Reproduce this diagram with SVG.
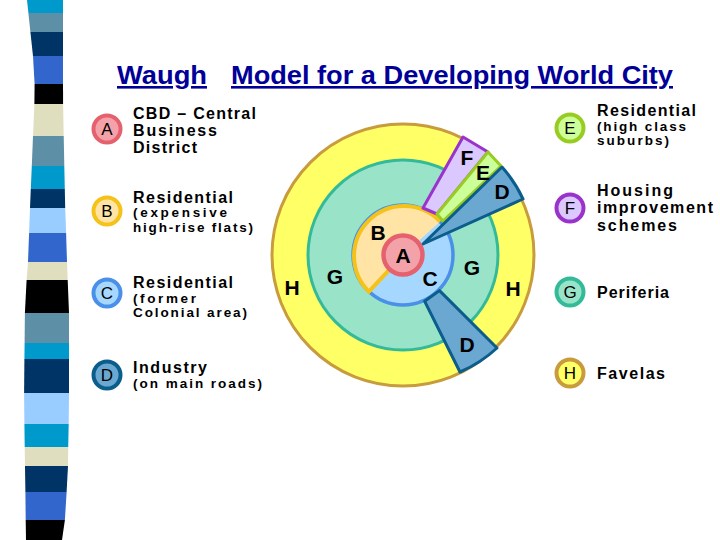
<svg xmlns="http://www.w3.org/2000/svg" width="720" height="540" viewBox="0 0 720 540">
<style>
.title{font-family:"Liberation Sans",Arial,sans-serif;font-weight:bold;font-size:26px;fill:#000099;text-decoration:underline;}
.lm{font-family:"Liberation Sans",Arial,sans-serif;font-weight:bold;font-size:16px;fill:#000;}
.ls{font-family:"Liberation Sans",Arial,sans-serif;font-weight:bold;font-size:13.5px;fill:#000;}
.ll{font-family:"Liberation Sans",Arial,sans-serif;font-size:17px;fill:#000;text-anchor:middle;}
.zl{font-family:"Liberation Sans",Arial,sans-serif;font-weight:bold;font-size:21px;fill:#000;text-anchor:middle;}
.cA{fill:#f4a2aa;stroke:#e6616e;}
.cB{fill:#ffe4a6;stroke:#f5c21a;}
.cC{fill:#a6d8ff;stroke:#4a90e8;}
.cD{fill:#6aa8d2;stroke:#0b5d8c;}
.cE{fill:#ccff99;stroke:#99cc22;}
.cF{fill:#dac8ff;stroke:#9933cc;}
.cG{fill:#99e4c9;stroke:#33bb99;}
.cH{fill:#ffff66;stroke:#c89b3c;}
.lc{stroke-width:4;}
</style>
<rect width="720" height="540" fill="#ffffff"/>
<g id="stripes">
<polygon points="27,0 63,0 63,13 28.4,13" fill="#0099cc"/>
<polygon points="28.4,13 63,13 63,32 30.4,32" fill="#5d8fa6"/>
<polygon points="30.4,32 63,32 63,56 33,56" fill="#003366"/>
<polygon points="33,56 63,56 63,84 34.6,84" fill="#3366cc"/>
<polygon points="34.6,84 63,84 63.1,104 34.4,104" fill="#000000"/>
<polygon points="34.4,104 63.1,104 63.7,136 33,136" fill="#dfdfc0"/>
<polygon points="33,136 63.7,136 64.3,166 31.8,166" fill="#5d8fa6"/>
<polygon points="31.8,166 64.3,166 64.8,189 30.8,189" fill="#0099cc"/>
<polygon points="30.8,189 64.8,189 65.2,208 30,208" fill="#003366"/>
<polygon points="30,208 65.2,208 66.1,233 29.1,233" fill="#99ccff"/>
<polygon points="29.1,233 66.1,233 67,262 28,262" fill="#3366cc"/>
<polygon points="28,262 67,262 67.7,280 26.6,280" fill="#dfdfc0"/>
<polygon points="26.6,280 67.7,280 69,313 24.9,313" fill="#000000"/>
<polygon points="24.9,313 69,313 69,343 24.6,343" fill="#5d8fa6"/>
<polygon points="24.6,343 69,343 69,359 24.4,359" fill="#0099cc"/>
<polygon points="24.4,359 69,359 69,393 24.1,393" fill="#003366"/>
<polygon points="24.1,393 69,393 68.7,424 24.4,424" fill="#99ccff"/>
<polygon points="24.4,424 68.7,424 68.2,447 24.7,447" fill="#0099cc"/>
<polygon points="24.7,447 68.2,447 68,466 25,466" fill="#dfdfc0"/>
<polygon points="25,466 68,466 66.6,492 25.4,492" fill="#003366"/>
<polygon points="25.4,492 66.6,492 64.9,520 25.7,520" fill="#3366cc"/>
<polygon points="25.7,520 64.9,520 62,540 26,540" fill="#000000"/>
</g>
<g id="title">
<text class="title" x="117" y="84" textLength="90" lengthAdjust="spacingAndGlyphs">Waugh</text>
<text class="title" x="231" y="84" textLength="442" lengthAdjust="spacingAndGlyphs">Model for a Developing World City</text>
</g>
<g id="model">
<g id="zone-H"><circle class="cH" cx="403" cy="255" r="131" stroke-width="3"/></g>
<g id="zone-G"><circle class="cG" cx="403" cy="255" r="95" stroke-width="3"/></g>
<g id="zone-C"><circle class="cC" cx="403" cy="255" r="50" stroke-width="3.5"/></g>
<g id="zone-B">
<path d="M403 255 L368.9 291.6 A50 50 0 1 1 440.2 221.5 Z" fill="#ffe4a6"/>
<path d="M388.7 270.4 L368.9 291.6 A50 50 0 1 1 440.2 221.5" fill="none" stroke="#f5c21a" stroke-width="4"/>
</g>
<g id="zone-F"><polygon class="cF" points="463,137 488,152 437,214 423,208" stroke-width="3" stroke-linejoin="round"/></g>
<g id="zone-E"><polygon class="cE" points="488,152 501,166 443,221 437,214" stroke-width="3" stroke-linejoin="round"/></g>
<g id="zone-D-upper"><path class="cD" d="M423 244 L502 167 A131 131 0 0 1 523 199 Z" stroke-width="3" stroke-linejoin="round"/></g>
<g id="zone-D-lower"><path class="cD" d="M424.6 301.2 L439.5 290.6 L497 348 A131 131 0 0 1 460 372 Z" stroke-width="3" stroke-linejoin="round"/></g>
<g id="zone-A"><circle class="cA" cx="403" cy="255" r="19.5" stroke-width="4.5"/></g>
<g id="zone-labels">
<text class="zl" x="467" y="165">F</text>
<text class="zl" x="483" y="180">E</text>
<text class="zl" x="502" y="199">D</text>
<text class="zl" x="378" y="240" font-size="22">B</text>
<text class="zl" x="403" y="263" font-size="22">A</text>
<text class="zl" x="430" y="286">C</text>
<text class="zl" x="335" y="284">G</text>
<text class="zl" x="472" y="275">G</text>
<text class="zl" x="292" y="295">H</text>
<text class="zl" x="513" y="296">H</text>
<text class="zl" x="467" y="352">D</text>
</g>
</g>
<g id="connectors"/>
<g id="legend-A">
<circle class="cA lc" cx="107" cy="129" r="13.5"/>
<text class="ll" x="107" y="135">A</text>
<text class="lm" x="133" y="119" textLength="123" lengthAdjust="spacing">CBD – Central</text>
<text class="lm" x="133" y="136" textLength="84" lengthAdjust="spacing">Business</text>
<text class="lm" x="133" y="153" textLength="64" lengthAdjust="spacing">District</text>
</g>
<g id="legend-B">
<circle class="cB lc" cx="107" cy="211" r="13.5"/>
<text class="lm" x="133" y="203" textLength="100" lengthAdjust="spacing">Residential</text>
<text class="ll" x="107" y="217">B</text>
<text class="ls" x="133" y="217" textLength="94" lengthAdjust="spacing">(expensive</text>
<text class="ls" x="133" y="232" textLength="120" lengthAdjust="spacing">high-rise flats)</text>
</g>
<g id="legend-C">
<circle class="cC lc" cx="107" cy="293" r="13.5"/>
<text class="ll" x="107" y="299">C</text>
<text class="lm" x="133" y="288" textLength="100" lengthAdjust="spacing">Residential</text>
<text class="ls" x="133" y="303" textLength="63" lengthAdjust="spacing">(former</text>
<text class="ls" x="133" y="317" textLength="114" lengthAdjust="spacing">Colonial area)</text>
</g>
<g id="legend-D">
<circle class="cD lc" cx="107" cy="375" r="13.5"/>
<text class="ll" x="107" y="381">D</text>
<text class="lm" x="133" y="373" textLength="74" lengthAdjust="spacing">Industry</text>
<text class="ls" x="133" y="388" textLength="129" lengthAdjust="spacing">(on main roads)</text>
</g>
<g id="legend-E">
<circle class="cE lc" cx="570" cy="128" r="13.5"/>
<text class="ll" x="570" y="134">E</text>
<text class="lm" x="597" y="116" textLength="99" lengthAdjust="spacing">Residential</text>
<text class="ls" x="597" y="131" textLength="89" lengthAdjust="spacing">(high class</text>
<text class="ls" x="597" y="145" textLength="72" lengthAdjust="spacing">suburbs)</text>
</g>
<g id="legend-F">
<circle class="cF lc" cx="570" cy="208" r="13.5"/>
<text class="ll" x="570" y="214">F</text>
<text class="lm" x="597" y="196" textLength="76" lengthAdjust="spacing">Housing</text>
<text class="lm" x="597" y="213" textLength="116" lengthAdjust="spacing">improvement</text>
<text class="lm" x="597" y="231" textLength="80" lengthAdjust="spacing">schemes</text>
</g>
<g id="legend-G">
<circle class="cG lc" cx="570" cy="292" r="13.5"/>
<text class="ll" x="570" y="298">G</text>
<text class="lm" x="597" y="298" textLength="72" lengthAdjust="spacing">Periferia</text>
</g>
<g id="legend-H">
<circle class="cH lc" cx="570" cy="373" r="13.5"/>
<text class="ll" x="570" y="379">H</text>
<text class="lm" x="597" y="379" textLength="68" lengthAdjust="spacing">Favelas</text>
</g>
</svg>
